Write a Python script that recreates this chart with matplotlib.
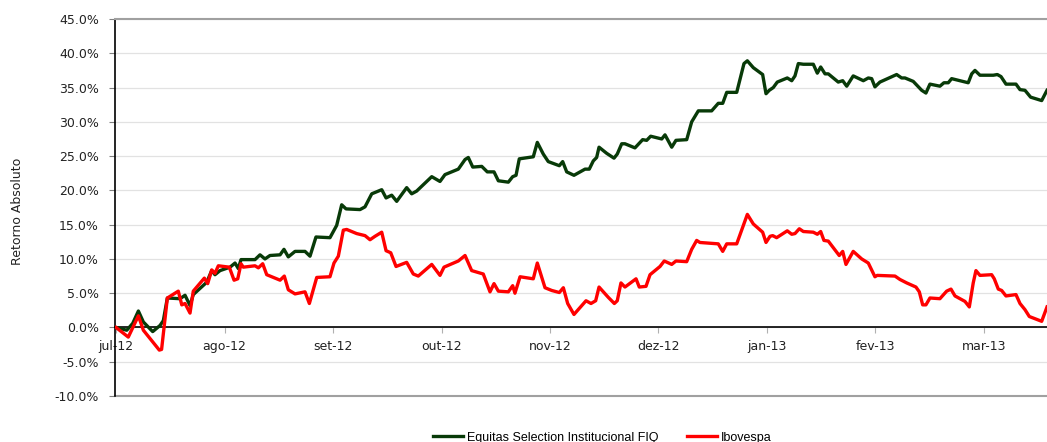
import matplotlib
matplotlib.use('Agg')
import matplotlib.pyplot as plt
from matplotlib.ticker import FuncFormatter

# x positions are in months since jul-12 (tick every month, evenly spaced)
month_labels = ['jul-12', 'ago-12', 'set-12', 'out-12', 'nov-12',
                'dez-12', 'jan-13', 'fev-13', 'mar-13']

equitas_m = [0.0, 0.099, 0.154, 0.206, 0.252, 0.338, 0.406, 0.436, 0.473, 0.590,
             0.636, 0.682, 0.712, 0.836, 0.882, 0.912, 0.959, 1.051, 1.097, 1.127,
             1.152, 1.281, 1.327, 1.373, 1.419, 1.512, 1.548, 1.588, 1.650, 1.742,
             1.788, 1.843, 1.972, 2.034, 2.080, 2.120, 2.249, 2.295, 2.357, 2.387,
             2.449, 2.489, 2.541, 2.587, 2.679, 2.725, 2.771, 2.910, 2.986, 3.032,
             3.155, 3.217, 3.247, 3.288, 3.371, 3.422, 3.484, 3.524, 3.616, 3.656,
             3.687, 3.717, 3.846, 3.883, 3.938, 3.984, 4.086, 4.117, 4.154, 4.221,
             4.323, 4.362, 4.399, 4.430, 4.452, 4.523, 4.590, 4.620, 4.661, 4.691,
             4.783, 4.854, 4.891, 4.928, 5.030, 5.060, 5.122, 5.161, 5.260, 5.306,
             5.367, 5.490, 5.551, 5.592, 5.629, 5.721, 5.788, 5.819, 5.874, 5.960,
             5.991, 6.021, 6.058, 6.095, 6.187, 6.228, 6.258, 6.289, 6.335, 6.427,
             6.464, 6.495, 6.535, 6.565, 6.657, 6.698, 6.735, 6.795, 6.888, 6.934,
             6.965, 6.995, 7.041, 7.195, 7.241, 7.272, 7.348, 7.426, 7.465, 7.502,
             7.594, 7.631, 7.671, 7.702, 7.855, 7.887, 7.917, 7.963, 8.086, 8.123,
             8.157, 8.203, 8.295, 8.332, 8.378, 8.430, 8.532, 8.581]
equitas_v = [0.0, -0.4, 0.6, 2.4, 0.8, -0.6, 0.3, 1.0, 4.3, 4.2,
             4.7, 3.2, 4.8, 6.6, 8.3, 7.7, 8.3, 8.8, 9.4, 8.6,
             9.9, 9.9, 10.6, 10.0, 10.5, 10.6, 11.4, 10.3, 11.1, 11.1,
             10.4, 13.2, 13.1, 14.9, 17.9, 17.3, 17.2, 17.6, 19.5, 19.7,
             20.1, 18.9, 19.3, 18.4, 20.4, 19.5, 19.9, 22.0, 21.3, 22.3,
             23.1, 24.5, 24.8, 23.4, 23.5, 22.7, 22.7, 21.4, 21.2, 22.0,
             22.2, 24.6, 24.9, 27.0, 25.3, 24.2, 23.6, 24.2, 22.7, 22.2,
             23.1, 23.1, 24.3, 24.8, 26.3, 25.4, 24.7, 25.3, 26.8, 26.8,
             26.2, 27.4, 27.3, 27.9, 27.5, 28.1, 26.3, 27.3, 27.4, 30.0,
             31.6, 31.6, 32.7, 32.7, 34.3, 34.3, 38.5, 38.9, 37.9, 36.9,
             34.1, 34.6, 35.0, 35.8, 36.4, 36.0, 36.7, 38.5, 38.4, 38.4,
             37.1, 38.0, 37.0, 37.0, 35.8, 36.0, 35.2, 36.7, 36.0, 36.4,
             36.3, 35.1, 35.8, 36.9, 36.4, 36.4, 35.9, 34.6, 34.2, 35.5,
             35.2, 35.7, 35.7, 36.3, 35.7, 37.0, 37.5, 36.8, 36.8, 36.9,
             36.6, 35.5, 35.5, 34.7, 34.6, 33.6, 33.1, 34.6]

ibov_m = [0.0, 0.113, 0.206, 0.252, 0.399, 0.420, 0.473, 0.574, 0.606, 0.636,
          0.682, 0.712, 0.814, 0.845, 0.882, 0.912, 0.943, 1.044, 1.088, 1.122,
          1.152, 1.173, 1.281, 1.312, 1.352, 1.389, 1.512, 1.551, 1.588, 1.650,
          1.742, 1.782, 1.850, 1.972, 2.009, 2.049, 2.095, 2.126, 2.218, 2.295,
          2.341, 2.387, 2.449, 2.489, 2.532, 2.581, 2.679, 2.740, 2.786, 2.910,
          2.986, 3.023, 3.155, 3.217, 3.278, 3.385, 3.447, 3.484, 3.524, 3.616,
          3.656, 3.677, 3.724, 3.846, 3.883, 3.954, 4.016, 4.086, 4.123, 4.163,
          4.221, 4.332, 4.378, 4.421, 4.452, 4.537, 4.593, 4.620, 4.654, 4.691,
          4.793, 4.823, 4.885, 4.922, 5.014, 5.053, 5.122, 5.161, 5.260, 5.306,
          5.352, 5.382, 5.551, 5.592, 5.629, 5.721, 5.819, 5.874, 5.960, 5.991,
          6.028, 6.053, 6.089, 6.187, 6.228, 6.258, 6.298, 6.335, 6.427, 6.464,
          6.495, 6.525, 6.565, 6.666, 6.698, 6.728, 6.795, 6.873, 6.934, 6.995,
          7.016, 7.180, 7.226, 7.288, 7.373, 7.404, 7.435, 7.465, 7.502, 7.594,
          7.656, 7.696, 7.733, 7.825, 7.865, 7.901, 7.926, 7.963, 8.071, 8.095,
          8.132, 8.163, 8.203, 8.295, 8.332, 8.378, 8.418, 8.532, 8.581]
ibov_v = [0.0, -1.4, 1.7, -0.4, -3.3, -3.2, 4.3, 5.3, 3.3, 3.5,
          2.1, 5.3, 7.2, 6.4, 8.4, 7.9, 9.0, 8.8, 6.9, 7.1,
          9.3, 8.8, 9.0, 8.7, 9.3, 7.7, 6.9, 7.5, 5.5, 4.9,
          5.2, 3.5, 7.3, 7.4, 9.4, 10.4, 14.2, 14.3, 13.7, 13.4,
          12.8, 13.3, 13.9, 11.2, 10.9, 8.9, 9.5, 7.8, 7.5, 9.2,
          7.6, 8.8, 9.7, 10.5, 8.3, 7.8, 5.2, 6.4, 5.3, 5.2,
          6.1, 5.0, 7.4, 7.1, 9.4, 5.8, 5.4, 5.1, 5.8, 3.5,
          1.9, 3.9, 3.5, 3.9, 5.9, 4.4, 3.5, 3.9, 6.5, 5.9,
          7.1, 5.9, 6.0, 7.7, 8.9, 9.7, 9.2, 9.7, 9.6, 11.4,
          12.7, 12.4, 12.2, 11.1, 12.2, 12.2, 16.5, 15.1, 13.9, 12.4,
          13.3, 13.4, 13.1, 14.1, 13.6, 13.7, 14.4, 14.0, 13.9, 13.6,
          14.0, 12.7, 12.6, 10.5, 11.1, 9.2, 11.1, 10.0, 9.4, 7.4,
          7.6, 7.5, 7.0, 6.5, 5.9, 5.2, 3.3, 3.3, 4.3, 4.2,
          5.3, 5.6, 4.6, 3.8, 3.0, 6.5, 8.3, 7.6, 7.7, 7.1,
          5.6, 5.4, 4.6, 4.8, 3.5, 2.6, 1.6, 0.9, 3.0]

fig = plt.figure(figsize=(10.47, 4.42), dpi=100)
ax = fig.add_axes([0.1103, 0.104, 0.8897, 0.853])

ax.plot(equitas_m, equitas_v, color='#083a08', lw=2.4,
        label='Equitas Selection Institucional FIQ', zorder=3)
ax.plot(ibov_m, ibov_v, color='#ff0000', lw=2.4, label='Ibovespa', zorder=3)

ax.set_xlim(-0.005, 8.581)
ax.set_ylim(-10, 45)
ax.set_yticks(range(-10, 50, 5))
ax.yaxis.set_major_formatter(FuncFormatter(lambda v, p: f'{v:.1f}%'))
ax.grid(axis='y', color='#e2e2e2', lw=0.9)
ax.set_axisbelow(True)

ax.set_xticks(range(len(month_labels)))
ax.set_xticklabels(month_labels)

ax.spines['right'].set_visible(False)
ax.spines['top'].set_color('#a0a0a0')
ax.spines['top'].set_linewidth(1.5)
ax.spines['left'].set_color('black')
ax.spines['left'].set_linewidth(1.2)
# x axis sits on the zero line, the frame below is a plain grey line
ax.spines['bottom'].set_position(('data', 0))
ax.spines['bottom'].set_color('black')
ax.spines['bottom'].set_linewidth(1.2)
ax.spines['bottom'].set_zorder(2)
ax.axhline(-10, color='#a0a0a0', lw=1.5, clip_on=False)

ax.tick_params(axis='y', direction='out', length=4, width=0.8, color='#808080',
               pad=8, labelsize=9, labelcolor='#222222')
ax.tick_params(axis='x', direction='out', length=4, width=0.8, color='#b0b0b0',
               pad=5, labelsize=9, labelcolor='#222222')

ax.set_ylabel('Retorno Absoluto', fontsize=9, color='#222222')
ax.yaxis.set_label_coords(-0.098, 0.49)

fig.legend(loc='center', bbox_to_anchor=(0.575, 0.01), ncol=2, frameon=False,
           prop={'family': 'Liberation Sans', 'size': 9},
           handlelength=2.4, handletextpad=0.3, columnspacing=2.3)

fig.savefig('out.png', dpi=100)
